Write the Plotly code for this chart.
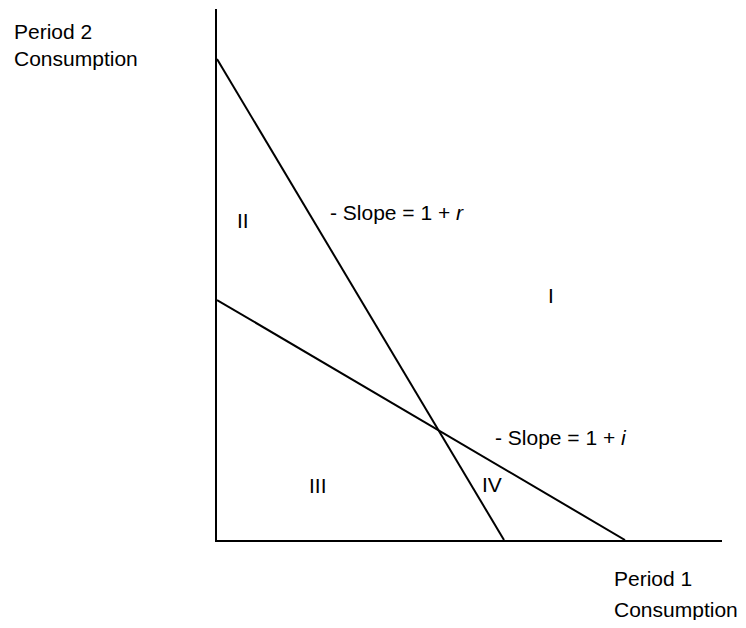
import plotly.graph_objects as go

# budget lines (x = period 1 consumption, y = period 2 consumption)
steep_x = [0.0, 5.74]
steep_y = [9.62, 0.0]
flat_x = [0.0, 8.16]
flat_y = [4.8, 0.0]

# region labels and their positions
region_labels = ["II", "I", "III", "IV"]
region_x = [0.52, 6.68, 2.02, 5.5]
region_y = [6.4, 4.9, 1.1, 1.12]

slope_labels = ["- Slope = 1 + <i>r</i>", "- Slope = 1 + <i>i</i>"]
slope_x = [2.22, 5.52]
slope_y = [6.56, 2.06]

FONT = dict(family="Liberation Sans, Arial, sans-serif", size=21, color="black")

fig = go.Figure()

fig.add_trace(
    go.Scatter(
        x=steep_x,
        y=steep_y,
        mode="lines",
        line=dict(color="black", width=2),
        showlegend=False,
        hoverinfo="skip",
    )
)
fig.add_trace(
    go.Scatter(
        x=flat_x,
        y=flat_y,
        mode="lines",
        line=dict(color="black", width=2),
        showlegend=False,
        hoverinfo="skip",
    )
)

for txt, x, y in zip(region_labels, region_x, region_y):
    fig.add_annotation(x=x, y=y, text=txt, showarrow=False, font=FONT)

for txt, x, y in zip(slope_labels, slope_x, slope_y):
    fig.add_annotation(x=x, y=y, text=txt, showarrow=False, font=FONT, xanchor="left")

# axis titles sit outside the plot area, so place them in paper coords
fig.add_annotation(
    xref="paper", yref="paper", x=-0.405, y=0.933,
    text="Period 2<br>Consumption", showarrow=False,
    font=FONT, xanchor="left", yanchor="middle", align="left",
)
fig.add_annotation(
    xref="paper", yref="paper", x=0.783, y=-0.072,
    text="Period 1", showarrow=False,
    font=FONT, xanchor="left", yanchor="middle", align="left",
)
fig.add_annotation(
    xref="paper", yref="paper", x=0.783, y=-0.13,
    text="Consumption", showarrow=False,
    font=FONT, xanchor="left", yanchor="middle", align="left",
)

# page has an 8px body margin, so the figure is shrunk to fit the window
fig.update_layout(
    width=730,
    height=612,
    paper_bgcolor="white",
    plot_bgcolor="white",
    margin=dict(l=209, r=16, t=1, b=80),
    showlegend=False,
)

fig.update_xaxes(
    range=[0, 10.1],
    showgrid=False,
    zeroline=False,
    showticklabels=False,
    ticks="",
    showline=True,
    linecolor="black",
    linewidth=2,
)
fig.update_yaxes(
    range=[0, 10.62],
    showgrid=False,
    zeroline=False,
    showticklabels=False,
    ticks="",
    showline=True,
    linecolor="black",
    linewidth=2,
)

fig.write_html("out.html")
